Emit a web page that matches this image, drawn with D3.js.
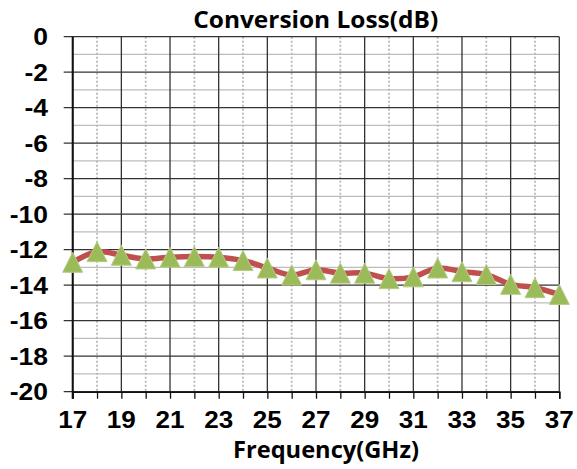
<!DOCTYPE html>
<html>
<head>
<meta charset="utf-8">
<script src="https://cdn.jsdelivr.net/npm/d3@7"></script>
<style>
  body { margin: 0; background: #fff; }
  svg { display: block; }
  .num { font-family: "Liberation Sans", Arimo, Arial, sans-serif; font-weight: bold; }
  .ttl { font-family: "Open Sans", "Noto Sans", sans-serif; font-weight: bold; }
</style>
</head>
<body>
<div id="chart"></div>
<script>
// frequency in GHz, conversion loss in dB
var freqs = [17, 18, 19, 20, 21, 22, 23, 24, 25, 26, 27, 28, 29, 30, 31, 32, 33, 34, 35, 36, 37];
var loss = [-12.71, -12.11, -12.31, -12.52, -12.42, -12.38, -12.42, -12.61, -13.03, -13.43, -13.13,
            -13.32, -13.32, -13.63, -13.53, -13.03, -13.24, -13.40, -13.95, -14.14, -14.52];
var xTickLabels = [17, 19, 21, 23, 25, 27, 29, 31, 33, 35, 37];
var yTickLabels = [0, -2, -4, -6, -8, -10, -12, -14, -16, -18, -20];

var width = 577, height = 469;
var plotLeft = 72.7, plotRight = 559.3, plotTop = 36.7, plotBottom = 391.7;

var svg = d3.select("#chart").append("svg")
    .attr("width", width)
    .attr("height", height);

var x = d3.scaleLinear().domain([17, 37]).range([plotLeft, plotRight]);
var y = d3.scaleLinear().domain([-20, 0]).range([plotBottom, plotTop]);

var grid = svg.append("g").attr("class", "grid");

// minor horizontal lines (odd dB)
grid.selectAll("line.hminor")
    .data(d3.range(-19, 0, 2))
    .enter().append("line")
    .attr("class", "hminor")
    .attr("x1", plotLeft).attr("x2", plotRight)
    .attr("y1", d => y(d)).attr("y2", d => y(d))
    .attr("stroke", "#bdbdbd")
    .attr("stroke-width", 1.2);

// minor vertical dotted lines (even GHz)
grid.selectAll("line.vminor")
    .data(d3.range(18, 37, 2))
    .enter().append("line")
    .attr("class", "vminor")
    .attr("x1", d => x(d)).attr("x2", d => x(d))
    .attr("y1", plotTop).attr("y2", plotBottom)
    .attr("stroke", "#b8b8b8")
    .attr("stroke-width", 1.8)
    .attr("stroke-dasharray", "2,2");

// major horizontal lines (even dB), extend left as ticks
grid.selectAll("line.hmajor")
    .data(yTickLabels)
    .enter().append("line")
    .attr("class", "hmajor")
    .attr("x1", plotLeft - 9).attr("x2", plotRight)
    .attr("y1", d => y(d)).attr("y2", d => y(d))
    .attr("stroke", "#333")
    .attr("stroke-width", 1.3);

// major vertical lines (odd GHz)
grid.selectAll("line.vmajor")
    .data(xTickLabels)
    .enter().append("line")
    .attr("class", "vmajor")
    .attr("x1", d => x(d)).attr("x2", d => x(d))
    .attr("y1", plotTop).attr("y2", plotBottom)
    .attr("stroke", "#333")
    .attr("stroke-width", 1.3);

// x axis with a tick at every GHz
var xAxis = d3.axisBottom(x)
    .tickValues(freqs)
    .tickSize(7)
    .tickFormat("");
svg.append("g")
    .attr("transform", `translate(0,${plotBottom})`)
    .call(xAxis)
    .call(g => g.select(".domain").attr("stroke", "#111").attr("stroke-width", 1.5))
    .call(g => g.selectAll(".tick line").attr("stroke", "#111").attr("stroke-width", 1.3));

// left axis line
svg.append("line")
    .attr("x1", plotLeft).attr("x2", plotLeft)
    .attr("y1", plotTop).attr("y2", plotBottom + 7)
    .attr("stroke", "#111")
    .attr("stroke-width", 2);

// tick labels, widened a bit like the original
svg.append("g").selectAll("text")
    .data(xTickLabels)
    .enter().append("text")
    .attr("class", "num")
    .attr("x", d => x(d))
    .attr("y", 428)
    .attr("text-anchor", "middle")
    .attr("font-size", 23)
    .attr("textLength", 29)
    .attr("lengthAdjust", "spacingAndGlyphs")
    .text(d => d);

svg.append("g").selectAll("text")
    .data(yTickLabels)
    .enter().append("text")
    .attr("class", "num")
    .attr("x", 48)
    .attr("y", d => y(d) + 8.3)
    .attr("text-anchor", "end")
    .attr("font-size", 23)
    .text(d => d)
    .each(function () {
        var w = this.getComputedTextLength();
        d3.select(this)
            .attr("textLength", w * 1.15)
            .attr("lengthAdjust", "spacingAndGlyphs");
    });

// title and axis title
svg.append("text")
    .attr("class", "ttl")
    .attr("x", 315.7)
    .attr("y", 27.5)
    .attr("text-anchor", "middle")
    .attr("font-size", 24)
    .attr("textLength", 245)
    .attr("lengthAdjust", "spacingAndGlyphs")
    .text("Conversion Loss(dB)");

svg.append("text")
    .attr("class", "ttl")
    .attr("x", 326)
    .attr("y", 458)
    .attr("text-anchor", "middle")
    .attr("font-size", 24)
    .attr("textLength", 186)
    .attr("lengthAdjust", "spacingAndGlyphs")
    .text("Frequency(GHz)");

// series
var points = freqs.map((f, i) => ({ f: f, v: loss[i] }));

var line = d3.line()
    .x(d => x(d.f))
    .y(d => y(d.v))
    .curve(d3.curveCatmullRom);

svg.append("path")
    .datum(points)
    .attr("d", line)
    .attr("fill", "none")
    .attr("stroke", "#c0504d")
    .attr("stroke-width", 5.5)
    .attr("stroke-linejoin", "round");

var tri = "M0,-10 L10,10 L-10,10 Z";
svg.append("g").selectAll("path")
    .data(points)
    .enter().append("path")
    .attr("d", tri)
    .attr("transform", d => `translate(${x(d.f)},${y(d.v)})`)
    .attr("fill", "#9bbb59")
    .attr("stroke", "#b3cc85")
    .attr("stroke-width", 1);
</script>
</body>
</html>
